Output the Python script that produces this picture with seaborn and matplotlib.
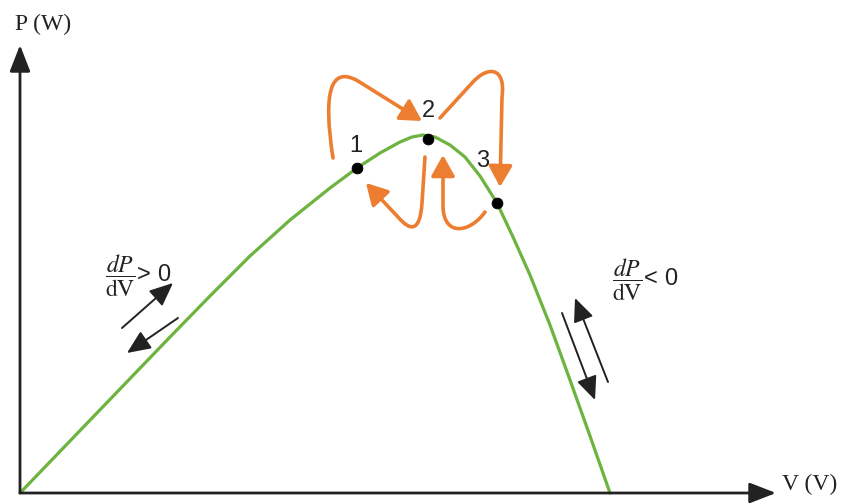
import matplotlib
matplotlib.use("Agg")
import matplotlib.pyplot as plt
import seaborn as sns
import pandas as pd
from matplotlib.patches import FancyArrowPatch
from matplotlib.path import Path

# P-V characteristic of a PV panel (arbitrary units)
voltage = [0, 50, 100, 150, 190, 230, 270, 310, 337, 360, 380, 392, 403, 415,
           430, 445, 460, 477, 493, 510, 530, 550, 570, 590]
power = [0, 52, 104, 156, 197, 237, 273, 305, 325, 340, 351, 356, 358, 356,
         348, 336, 317, 290, 256, 218, 168, 113, 57, 0]

# operating points visited by the perturb & observe algorithm
point_labels = ["1", "2", "3"]
point_v = [337, 408, 477]
point_p = [325, 354, 290]

curve = pd.DataFrame({"V": voltage, "P": power})
points = pd.DataFrame({"V": point_v, "P": point_p, "label": point_labels})

sns.set_theme(style="white")
plt.rcParams["font.family"] = ["Liberation Sans", "DejaVu Sans"]
plt.rcParams["mathtext.fontset"] = "stix"

fig = plt.figure(figsize=(8.57, 5.04), dpi=100)
ax = fig.add_axes([0, 0, 1, 1])
ax.set_xlim(-20, 837)
ax.set_ylim(-11, 493)
ax.axis("off")

GREEN = "#6db33f"
ORANGE = "#ed7d31"
AXIS = "#222222"

sns.lineplot(data=curve, x="V", y="P", sort=False, color=GREEN, linewidth=2.3, ax=ax, zorder=3)
sns.scatterplot(data=points, x="V", y="P", color="black", s=60, edgecolor="black", ax=ax, zorder=5)

# coordinate axes drawn as arrows
ax.annotate("", xy=(0, 448), xytext=(0, 0),
            arrowprops=dict(arrowstyle="-|>,head_length=0.9,head_width=0.35", color=AXIS, lw=2,
                            shrinkA=0, shrinkB=0, mutation_scale=18))
ax.annotate("", xy=(756, 0), xytext=(0, 0),
            arrowprops=dict(arrowstyle="-|>,head_length=0.9,head_width=0.35", color=AXIS, lw=2,
                            shrinkA=0, shrinkB=0, mutation_scale=18))
ax.text(-5, 469, "P (W)", fontsize=17, family=["Liberation Serif"], ha="left", va="center", color="#222222")
ax.text(762, 9, "V (V)", fontsize=17, family=["Liberation Serif"], ha="left", va="center", color="#222222")

# point labels
label_pos = {"1": (336, 347), "2": (408, 382), "3": (463, 332)}
for lab, (x, y) in label_pos.items():
    ax.text(x, y, lab, fontsize=17, ha="center", va="center", color="#222222")

# orange search-path arrows
def curved_arrow(verts, codes):
    patch = FancyArrowPatch(path=Path(verts, codes),
                            arrowstyle="-|>,head_length=0.8,head_width=0.45",
                            mutation_scale=16, color=ORANGE, lw=2.6,
                            shrinkA=0, shrinkB=0, zorder=4)
    ax.add_patch(patch)

M, L, C = Path.MOVETO, Path.LINETO, Path.CURVE4
curved_arrow([(313, 335), (303, 400), (310, 428), (338, 412), (402, 372)],
             [M, C, C, C, L])
curved_arrow([(420, 375), (452, 410), (468, 428), (486, 426), (482, 396), (480, 306)],
             [M, L, C, C, C, L])
curved_arrow([(405, 336), (402, 290), (400, 260), (390, 262), (378, 276), (346, 310)],
             [M, L, C, C, C, L])
curved_arrow([(465, 281), (450, 260), (424, 256), (423, 286), (423, 338)],
             [M, C, C, C, L])

# black arrows showing the slope direction on each side
def slope_arrow(start, end):
    ax.annotate("", xy=end, xytext=start,
                arrowprops=dict(arrowstyle="-|>,head_length=0.8,head_width=0.35", color="#222222",
                                lw=1.4, shrinkA=0, shrinkB=0, mutation_scale=18))

slope_arrow((102, 165), (153, 210))
slope_arrow((158, 175), (107, 140))
slope_arrow((542, 180), (575, 93))
slope_arrow((588, 111), (555, 195))

ax.text(85, 217, r"$\dfrac{dP}{\mathrm{dV}}$> 0", fontsize=17, ha="left", va="center", color="#222222")
ax.text(592, 213, r"$\dfrac{dP}{\mathrm{dV}}$< 0", fontsize=17, ha="left", va="center", color="#222222")

fig.savefig("out.png", dpi=100, facecolor="white")
